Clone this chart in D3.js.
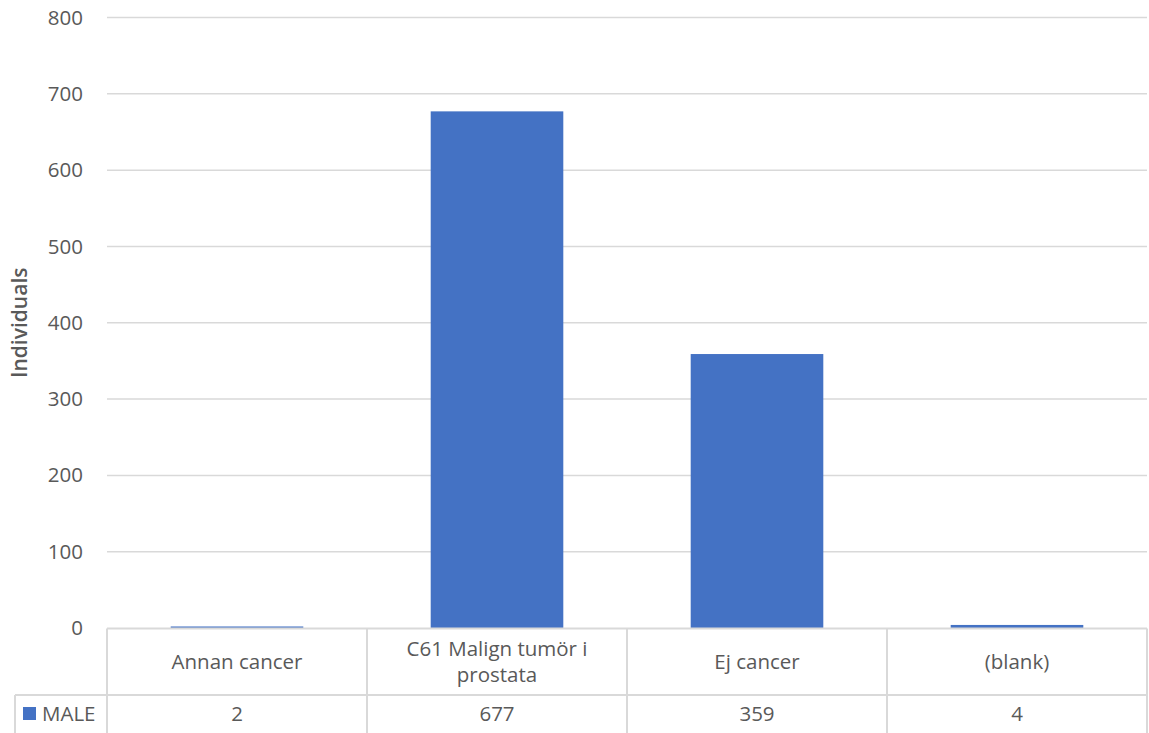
<!DOCTYPE html>
<html><head><meta charset="utf-8">
<script src="https://cdn.jsdelivr.net/npm/d3@7"></script>
<style>body{margin:0;background:#fff;} svg{display:block;font-family:"Open Sans","Noto Sans",sans-serif;}</style>
</head><body>
<svg id="c" width="1149" height="733"></svg>
<script>
const categories = ["Annan cancer", "C61 Malign tumör i prostata", "Ej cancer", "(blank)"];
const categoryLines = [["Annan cancer"], ["C61 Malign tumör i", "prostata"], ["Ej cancer"], ["(blank)"]];
const seriesName = "MALE";
const maleValues = [2, 677, 359, 4];
const yTicks = [0, 100, 200, 300, 400, 500, 600, 700, 800];
const yTitle = "Individuals";

(function () {
const svg = d3.select("#c");
const pLeft = 107, pRight = 1147, pTop = 17.5, pBottom = 628;
const x = d3.scaleBand().domain(categories).range([pLeft, pRight]).paddingInner(0.49).paddingOuter(0.245);
const xCell = d3.scaleBand().domain(categories).range([pLeft, pRight]);
const y = d3.scaleLinear().domain([0, 800]).range([pBottom, pTop]);
const grey = "#d9d9d9", txt = "#595959", blue = "#4472c4";
const fs = "20.5px";

// gridlines
svg.append("g").selectAll("line").data(yTicks.filter(d => d > 0)).join("line")
  .attr("x1", pLeft).attr("x2", pRight).attr("y1", d => y(d)).attr("y2", d => y(d))
  .attr("stroke", grey).attr("stroke-width", 1.5);

// y axis labels via d3 axis
const ya = svg.append("g").attr("transform", `translate(${pLeft},0)`)
  .call(d3.axisLeft(y).tickValues(yTicks).tickSize(0).tickPadding(24));
ya.select(".domain").remove();
ya.selectAll("text").attr("fill", txt).style("font-size", fs).style("font-family", '"Open Sans","Noto Sans",sans-serif');

// y title
svg.append("text").attr("transform", `translate(27,${(pTop + pBottom) / 2}) rotate(-90)`)
  .attr("text-anchor", "middle").attr("fill", txt).style("font-size", "21px").style("font-weight", "600")
  .text(yTitle);

// bars
svg.append("g").selectAll("rect").data(categories).join("rect")
  .attr("x", d => x(d)).attr("width", x.bandwidth())
  .attr("y", (d, i) => y(maleValues[i])).attr("height", (d, i) => pBottom - y(maleValues[i]))
  .attr("fill", blue);

// data table
const row1Top = 628.5, row1Bot = 695, row2Bot = 740, legendLeft = 15;
const tb = svg.append("g").attr("stroke", grey).attr("stroke-width", 2).attr("fill", "none");
tb.append("line").attr("x1", pLeft).attr("x2", pRight).attr("y1", row1Top).attr("y2", row1Top);
tb.append("line").attr("x1", legendLeft).attr("x2", pRight).attr("y1", row1Bot).attr("y2", row1Bot);
tb.append("line").attr("x1", legendLeft).attr("x2", legendLeft).attr("y1", row1Bot).attr("y2", row2Bot);
tb.selectAll("line.v").data([pLeft, ...categories.map(c => xCell(c) + xCell.bandwidth())]).join("line")
  .attr("class", "v").attr("x1", d => d).attr("x2", d => d).attr("y1", row1Top).attr("y2", row2Bot);

// category labels
const cl = svg.append("g").selectAll("text").data(categories).join("text")
  .attr("text-anchor", "middle").attr("fill", txt).style("font-size", fs)
  .attr("x", d => xCell(d) + xCell.bandwidth() / 2);
cl.each(function(d, i) {
  const lines = categoryLines[i];
  const n = lines.length;
  const cy = (row1Top + row1Bot) / 2;
  d3.select(this).selectAll("tspan").data(lines).join("tspan")
    .attr("x", xCell(d) + xCell.bandwidth() / 2)
    .attr("y", (l, j) => cy + 7 + (j - (n - 1) / 2) * 26)
    .text(l => l);
});

// values row
svg.append("g").selectAll("text").data(categories).join("text")
  .attr("text-anchor", "middle").attr("fill", txt).style("font-size", fs)
  .attr("x", d => xCell(d) + xCell.bandwidth() / 2).attr("y", 721)
  .text((d, i) => maleValues[i]);

// legend key
svg.append("rect").attr("x", 23).attr("y", 707).attr("width", 13).attr("height", 13).attr("fill", blue);
svg.append("text").attr("x", 42).attr("y", 721).attr("fill", txt).style("font-size", fs).text(seriesName);
})();
</script>
</body></html>
